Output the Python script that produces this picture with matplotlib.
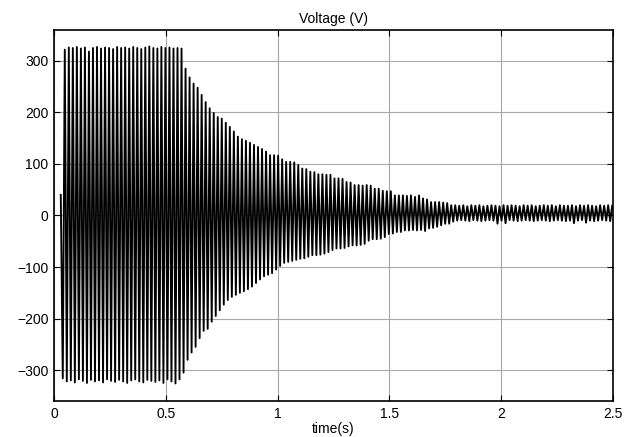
import numpy as np
import matplotlib
matplotlib.use("Agg")
import matplotlib.pyplot as plt

plt.rcParams['font.family'] = ['Liberation Sans', 'DejaVu Sans']

# waveform timing: first sample, then alternating negative / positive peaks
t_start = 0.030
v_start = 40
t_first_low = 0.039
t_first_high = 0.048
period = 0.018

# positive peak of each cycle (V)
v_high = [
    322, 326, 325, 327, 324, 326, 318, 325, 327, 324,
    326, 325, 323, 327, 325, 326, 324, 327, 325, 323,
    326, 328, 325, 324, 327, 325, 326, 324, 325, 324,
    285, 268, 256, 248, 234, 220, 208, 199, 191, 188,
    180, 172, 163, 153, 148, 145, 141, 137, 133, 129,
    124, 117, 117, 116, 109, 104, 104, 103, 98, 91,
    90, 85, 84, 80, 80, 79, 79, 72, 72, 71,
    65, 64, 59, 59, 58, 59, 58, 52, 52, 48,
    47, 47, 39, 39, 39, 38, 39, 36, 39, 33,
    31, 26, 26, 26, 25, 24, 20, 20, 19, 20,
    18, 20, 19, 20, 18, 19, 20, 19, 18, 20,
    19, 20, 19, 18, 20, 19, 20, 18, 19, 20,
    19, 20, 18, 20, 19, 19, 20, 18, 20, 19,
    20, 19, 18, 20, 19, 20, 19,
]

# negative peak of each cycle (V)
v_low = [
    -316, -322, -320, -324, -318, -321, -325, -319, -322, -320,
    -324, -318, -321, -323, -319, -322, -325, -320, -318, -322,
    -324, -319, -321, -323, -320, -325, -318, -322, -326, -318,
    -305, -280, -266, -255, -238, -224, -220, -206, -195, -184,
    -173, -164, -158, -154, -150, -147, -143, -138, -131, -124,
    -118, -115, -112, -105, -98, -92, -90, -88, -86, -84,
    -83, -80, -77, -77, -76, -74, -71, -67, -64, -64,
    -63, -60, -58, -58, -57, -55, -49, -46, -46, -45,
    -42, -36, -35, -32, -32, -29, -29, -28, -29, -28,
    -30, -25, -24, -22, -19, -16, -16, -12, -10, -9,
    -10, -11, -9, -10, -11, -10, -9, -10, -16, -10,
    -15, -9, -10, -11, -10, -9, -10, -11, -10, -9,
    -10, -11, -10, -9, -10, -11, -10, -15, -10, -9,
    -14, -10, -11, -10, -9, -10, -11,
]

n = len(v_high)
t_low = t_first_low + period * np.arange(len(v_low))
t_high = t_first_high + period * np.arange(n)

t = np.empty(2 * n + 1)
v = np.empty(2 * n + 1)
t[0], v[0] = t_start, v_start
t[1::2], v[1::2] = t_low, v_low
t[2::2], v[2::2] = t_high, v_high

fig = plt.figure(figsize=(6.36, 4.37), dpi=100)
ax = fig.add_axes([0.085, 0.0824, 0.879, 0.849])

ax.plot(t, v, color='black', lw=1.35)

ax.set_xlim(0, 2.5)
ax.set_ylim(-360, 360)
ax.set_xticks([0, 0.5, 1, 1.5, 2, 2.5])
ax.set_xticklabels(['0', '0.5', '1', '1.5', '2', '2.5'])
ax.set_yticks([-300, -200, -100, 0, 100, 200, 300])

ax.grid(True, color='#a8a8a8', lw=0.8)
ax.set_axisbelow(True)
ax.tick_params(direction='in', top=True, right=True, length=4, width=0.8,
               labelsize=10, pad=4)
for s in ax.spines.values():
    s.set_linewidth(1.2)

ax.set_title('Voltage (V)', fontsize=10, pad=5)
ax.set_xlabel('time(s)', fontsize=10, labelpad=1)

fig.savefig('out.png', dpi=100)
